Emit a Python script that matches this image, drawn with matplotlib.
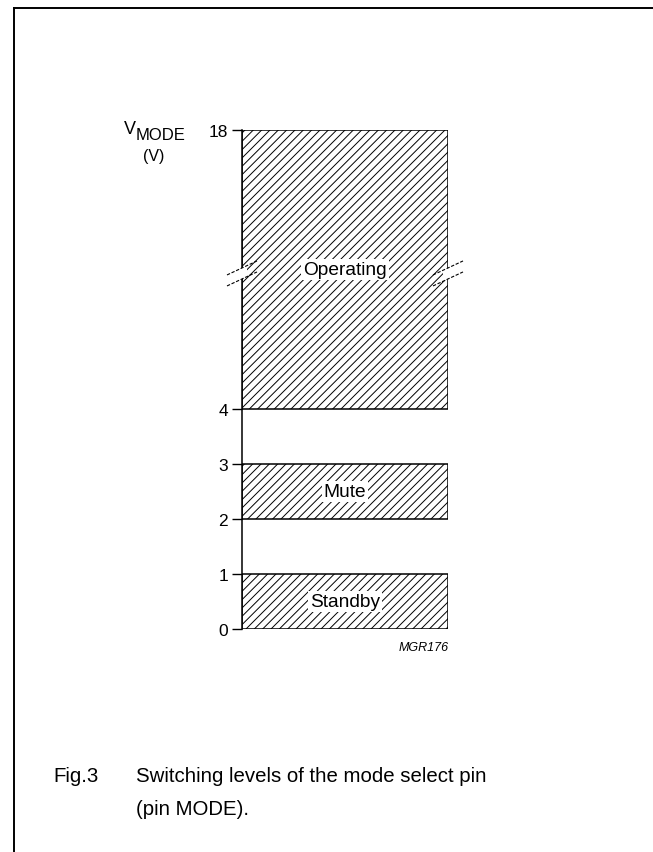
import numpy as np
import matplotlib
matplotlib.use("Agg")
import matplotlib.pyplot as plt
import matplotlib.transforms as mtransforms
from matplotlib.patches import Rectangle, Polygon
from matplotlib.lines import Line2D

plt.rcParams['font.family'] = ['Liberation Sans', 'DejaVu Sans']
plt.rcParams['hatch.linewidth'] = 0.7

# data
box_names = ['Standby', 'Mute', 'Operating']
box_low = [0, 2, 4]
box_high = [1, 3, 18]
tick_values = [0, 1, 2, 3, 4, 18]
break_value = 10.8
caption_no = 'Fig.3'
caption = ['Switching levels of the mode select pin', '(pin MODE).']
code = 'MGR176'

W, H = 653, 853
fig = plt.figure(figsize=(W / 100, H / 100), dpi=100)


def fx(px):
    return px / W


def fy(py):
    return 1 - py / H


# frame (top and left only)
fig.add_artist(Line2D([fx(13.5), 1], [fy(8.5), fy(8.5)], color='black', lw=1.4))
fig.add_artist(Line2D([fx(13.5), fx(13.5)], [fy(8.5), 0], color='black', lw=1.4))

ax = fig.add_axes([fx(242), fy(630), fx(448) - fx(242), fy(131) - fy(630)])

# compressed scale above 4 V
k = 5.07 / 14


def fwd(v):
    v = np.asarray(v, dtype=float)
    return np.where(v <= 4, v, 4 + (v - 4) * k)


def inv(p):
    p = np.asarray(p, dtype=float)
    return np.where(p <= 4, p, 4 + (p - 4) / k)


ax.set_yscale('function', functions=(fwd, inv))
ax.set_ylim(0, 18)
ax.set_xlim(0, 1)

for lo, hi, name in zip(box_low, box_high, box_names):
    ax.add_patch(Rectangle((0, lo), 1, hi - lo, facecolor='white', edgecolor='black',
                           hatch='////', lw=1.1, zorder=2))
    mid = (lo + hi) / 2
    ax.text(0.5, mid, name, ha='center', va='center', fontsize=13.8, zorder=4,
            bbox=dict(facecolor='white', edgecolor='none', pad=1.5))

ax.set_yticks(tick_values)
ax.set_yticklabels([str(t) for t in tick_values])
ax.yaxis.set_minor_locator(matplotlib.ticker.NullLocator())
ax.tick_params(axis='y', direction='out', length=7, width=1.0, labelsize=12.5, pad=3)
ax.set_xticks([])
for s in ['top', 'right', 'bottom']:
    ax.spines[s].set_visible(False)
ax.spines['left'].set_linewidth(1.1)
ax.spines['left'].set_zorder(3)
ax.patch.set_visible(False)

# axis break marks on both box edges
for xb in [0, 1]:
    trans = fig.dpi_scale_trans + mtransforms.ScaledTranslation(xb, break_value, ax.transData)
    gap = Polygon([(-0.05, -0.079), (0.05, -0.031), (0.05, 0.079), (-0.05, 0.031)],
                  closed=True, facecolor='white', edgecolor='none', transform=trans,
                  clip_on=False, zorder=5)
    ax.add_patch(gap)
    for off in [-0.055, 0.055]:
        ax.add_line(Line2D([-0.15, 0.15], [off - 0.07, off + 0.07], color='black', lw=0.8,
                           linestyle=(0, (3, 1.5)), transform=trans, clip_on=False, zorder=6))

# axis label
fig.text(fx(136), fy(134), 'V', ha='right', va='baseline', fontsize=13)
fig.text(fx(136), fy(140), 'MODE', ha='left', va='baseline', fontsize=12)
fig.text(fx(154), fy(157), '(V)', ha='center', va='center', fontsize=11.5)

fig.text(fx(449), fy(651), code, ha='right', va='baseline', fontsize=9, style='italic')

fig.text(fx(53), fy(782), caption_no, ha='left', va='baseline', fontsize=14.7)
fig.text(fx(136), fy(782), caption[0], ha='left', va='baseline', fontsize=14.7)
fig.text(fx(136), fy(815), caption[1], ha='left', va='baseline', fontsize=14.7)

fig.savefig('out.png', dpi=100)
